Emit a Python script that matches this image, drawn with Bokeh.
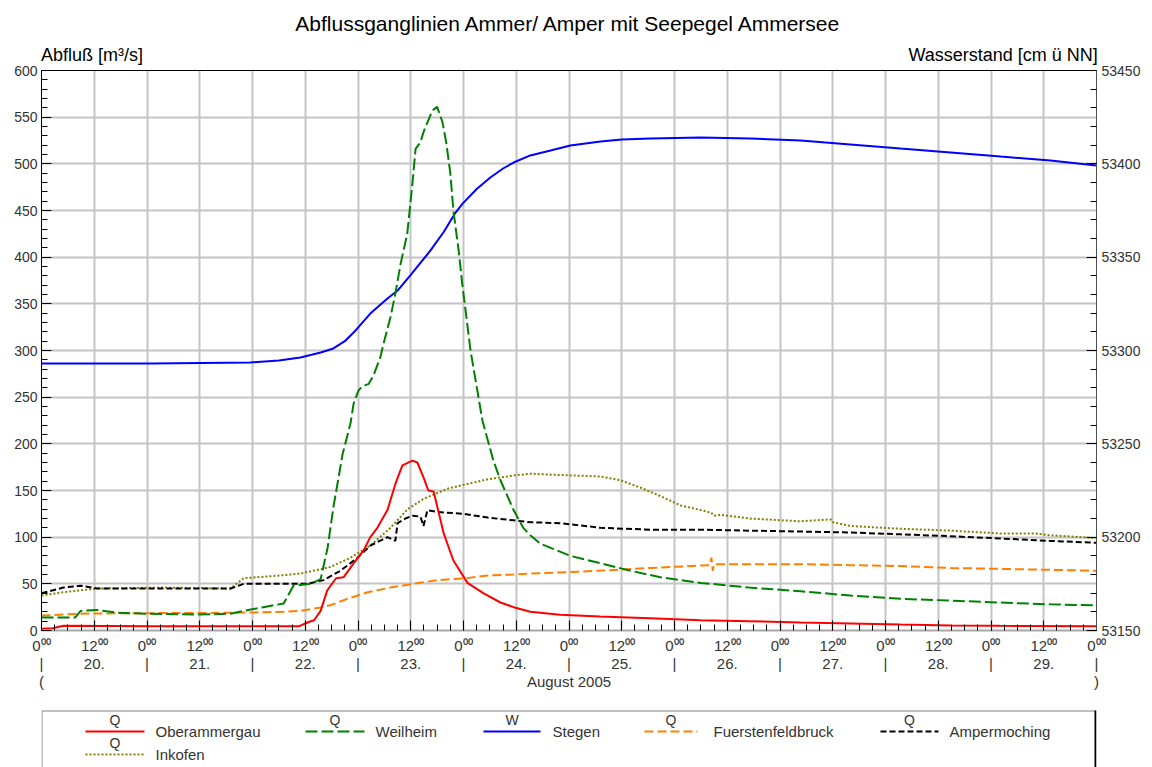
from bokeh.plotting import figure
from bokeh.models import Range1d, LinearAxis, FixedTicker, Grid
from bokeh.layouts import column
from bokeh.embed import file_html
from bokeh.resources import INLINE
from bokeh.core.properties import value

FONT = "Liberation Sans"

# ---------------- data (hours since 20.08.2005 00:00) ----------------
obe_h = [0, 2.5, 5, 25, 47, 58.5, 60.5, 62, 63.5, 65, 67, 68.7, 71, 73.3, 74.8, 76.4, 78.7,
         80.5, 82.1, 84.4, 85.5, 86.9, 88, 89.2, 91.5, 93.7, 96.9, 100.5, 104.4, 107.4,
         111.2, 118, 127, 138.5, 150, 161, 172.7, 184, 195.4, 206.8, 218, 240]
obe_q = [2, 2.5, 5, 4.5, 4.5, 4.5, 8.6, 11, 21, 43, 56, 57, 72, 86, 100, 110, 129,
         157, 177, 182, 180, 164, 150, 149, 104, 75, 51, 40, 30, 25,
         20, 17, 15, 13, 11, 10, 8.6, 7.5, 6.4, 5.4, 5, 4.5]

wei_h = [0, 7.7, 8.9, 12.7, 17.3, 24, 35.5, 43, 46, 50.5, 55.1, 57.3, 61.2, 63.5, 65.1,
         66.4, 68.5, 70.3, 71, 72.1, 73, 74.4, 75.5, 77.1, 77.8, 79.4, 80.5, 81.7, 83.2,
         84.3, 85.1, 86.2, 86.9, 88.9, 90, 91.2, 92.1, 93, 93.7, 94.9, 95.7, 97.6, 100.3,
         102.8, 104.4, 107.4, 109.6, 111.2, 113.5, 120.3, 127.2, 134, 140.8, 150, 161,
         172.7, 184, 195.4, 206.8, 218, 229.5, 240]
wei_q = [14, 14, 21, 22, 19, 18, 17, 18, 21, 25, 29, 48, 50, 55, 89,
         132, 189, 222, 243, 257, 262, 264, 273, 293, 307, 336, 361, 393, 425,
         475, 516, 523, 534, 557, 561, 545, 522, 490, 450, 407, 372, 300, 225,
         182, 161, 129, 110, 102, 93, 80, 72, 64, 57, 51, 46,
         42, 37.5, 34, 32, 30, 28, 27]

ste_h = [0, 25, 47.5, 54, 58.9, 63.5, 66.4, 69, 71, 74.8, 78.7, 81, 83.9, 88.5, 91.5, 94.2,
         95.8, 99, 102.1, 105, 107.4, 111.2, 115.8, 120.3, 127.2, 132, 138.5, 150, 161.3,
         172.7, 184, 195.4, 206.8, 218.2, 229.5, 240]
ste_w = [53293.0, 53293.0, 53293.6, 53294.6, 53296.2, 53298.9, 53301.1, 53305.0, 53309.6,
         53319.8, 53327.9, 53332.1, 53340.2, 53353.6, 53363.5, 53373.9, 53378.7, 53386.5,
         53392.7, 53397.5, 53400.7, 53404.5, 53407.1, 53409.8, 53412.0, 53413.0, 53413.6,
         53414.1, 53413.6, 53412.5, 53410.4, 53408.2, 53406.1, 53403.9, 53401.8, 53399.1]

fur_h = [0, 8.9, 20, 44.6, 55.1, 58.9, 63.5, 65.7, 69.6, 74.2, 79.4, 84.6, 90.1, 96, 101.5,
         107.4, 111.2, 122.6, 138.5, 152, 152.4, 152.7, 153, 161, 172.7, 184, 195.4, 206.8,
         218, 240]
fur_q = [16, 18, 18.5, 19, 20, 21, 24.6, 27, 34, 41, 46, 50, 54, 55.7, 59,
         60, 61, 63, 67, 70, 78, 64, 71, 71, 71, 70, 69, 67, 66, 64]

amp_h = [0, 5, 8.9, 12.7, 27.8, 43, 46, 58.2, 60.5, 64.2, 68, 71.9, 74.8, 78.7, 80.5, 81,
         82.8, 84.4, 86.2, 86.9, 87.8, 90.1, 96, 101.5, 107.4, 111.2, 118, 127.2, 138.5,
         150, 161, 172.7, 184, 195.4, 206.8, 218, 229.5, 240]
amp_q = [40, 46, 48, 45, 45, 45, 50, 50, 50, 54, 64, 78, 91, 100, 96, 115,
         120, 123, 122, 112, 129, 127, 125, 121, 118, 116, 115, 110, 108,
         108, 107, 106, 105, 103, 101, 98.6, 96, 94]

ink_h = [0, 5, 12.7, 27.8, 43, 46, 54.4, 58.9, 65.7, 70.3, 74.8, 79.4, 83.3, 86.9, 92.4,
         96.9, 101.5, 107.4, 111.2, 115.8, 127.2, 131.7, 136.3, 140.8, 145.4, 150, 152.4,
         153, 154.5, 161, 172.7, 179.5, 180, 184, 195.4, 206.8, 218, 226, 229.5, 240]
ink_q = [37.5, 41, 45, 46, 45, 56, 59, 61, 68, 78, 91, 110, 130, 141, 152,
         157, 162, 166, 168, 167, 165, 161, 153, 144, 134, 129, 126,
         123, 124, 120, 117, 119, 116, 112, 109, 107, 104, 104, 102, 99]

# ---------------- ticks and texts ----------------
x_major = list(range(0, 241, 12))
x_minor = list(range(0, 241, 3))
q_major = list(range(0, 601, 50))
q_minor = list(range(0, 601, 10))
w_major = list(range(53150, 53451, 50))
w_minor = list(range(53150, 53451, 10))
hour_labels = ["0\u2070\u2070" if t % 24 == 0 else "12\u2070\u2070" for t in x_major]
day_labels = ["20.", "21.", "22.", "23.", "24.", "25.", "26.", "27.", "28.", "29."]
day_row = ["|" if t % 24 == 0 else day_labels[t // 24] for t in x_major]
month_ticks = [0, 120, 240]
month_row = ["(", "August 2005", ")"]

TITLE = "Abflussganglinien Ammer/ Amper mit Seepegel Ammersee"
unit_ticks = [11.5, 218.75]
unit_labels = ["Abfluß [m³/s]", "Wasserstand [cm ü NN]"]

legend_kind = ["Q", "Q", "W", "Q", "Q", "Q"]
legend_names = ["Oberammergau", "Weilheim", "Stegen", "Fuerstenfeldbruck", "Ampermoching", "Inkofen"]

# styles
colors = ["#ff0000", "#008000", "#0000ff", "#ff8000", "#000000", "#808000"]
dashes = ["solid", "12 4", "solid", "9 4", "6 3", "2 2"]
TXT = "#333333"

# ---------------- main figure ----------------
p = figure(frame_width=1055, frame_height=560,
           x_range=Range1d(0, 240), y_range=Range1d(0, 600),
           x_axis_type=None, y_axis_type=None,
           output_backend="svg", toolbar_location=None,
           min_border_left=41, min_border_right=56, min_border_top=70, min_border_bottom=70,
           outline_line_color=None, background_fill_color="white", border_fill_color="white",
           title=TITLE)
p.title.align = "center"
p.title.text_font = FONT
p.title.text_font_size = "21px"
p.title.text_font_style = "normal"
p.title.text_color = "black"
p.title.standoff = 13
p.extra_y_ranges = {"w": Range1d(53150, 53450)}

xt = FixedTicker(ticks=x_major, minor_ticks=x_minor)
qt = FixedTicker(ticks=q_major, minor_ticks=q_minor)
wt = FixedTicker(ticks=w_major, minor_ticks=w_minor)

p.add_layout(Grid(dimension=0, ticker=xt, grid_line_color="#c4c4c4", grid_line_width=2))
p.add_layout(Grid(dimension=1, ticker=qt, grid_line_color="#c4c4c4", grid_line_width=2))


def style(ax, line_color, line_width=1, size="14px"):
    ax.major_tick_in = 10
    ax.major_tick_out = 0
    ax.minor_tick_in = 6
    ax.minor_tick_out = 0
    ax.major_tick_line_color = "black"
    ax.minor_tick_line_color = "black"
    ax.axis_line_color = line_color
    ax.axis_line_width = line_width
    ax.major_label_text_font = FONT
    ax.major_label_text_font_size = size
    ax.major_label_text_color = TXT


def bare(ax):
    ax.axis_line_color = None
    ax.major_tick_line_color = None
    ax.minor_tick_line_color = None
    ax.major_tick_out = 0
    ax.major_tick_in = 0
    ax.minor_tick_out = 0
    ax.minor_tick_in = 0


left = LinearAxis(ticker=qt)
style(left, "black")
left.major_label_standoff = 4
p.add_layout(left, "left")

right = LinearAxis(y_range_name="w", ticker=wt)
style(right, "#505050")
right.major_label_standoff = 5
p.add_layout(right, "right")

# bottom: hour row (with ticks), day row, month row
bottom = LinearAxis(ticker=xt, major_label_overrides=dict(zip(x_major, hour_labels)))
style(bottom, "#a8a8a8", 2, "15px")
bottom.major_label_standoff = 6
p.add_layout(bottom, "below")

days = LinearAxis(ticker=FixedTicker(ticks=x_major, minor_ticks=[]),
                  major_label_overrides=dict(zip(x_major, day_row)))
style(days, None, 1, "15px")
bare(days)
days.major_label_standoff = -2
p.add_layout(days, "below")

month = LinearAxis(ticker=FixedTicker(ticks=month_ticks, minor_ticks=[]),
                   major_label_overrides=dict(zip(month_ticks, month_row)))
style(month, None, 1, "15px")
bare(month)
month.major_label_standoff = -2
p.add_layout(month, "below")

# top: frame line + unit labels
top = LinearAxis(ticker=FixedTicker(ticks=unit_ticks, minor_ticks=[]),
                 major_label_overrides=dict(zip(unit_ticks, unit_labels)))
style(top, "black", 1, "18px")
top.major_tick_line_color = None
top.minor_tick_line_color = None
top.major_tick_in = 0
top.minor_tick_in = 0
top.major_label_text_color = "black"
top.major_label_standoff = 6
p.add_layout(top, "above")

# series
p.line(ink_h, ink_q, line_color=colors[5], line_width=2, line_dash=dashes[5])
p.line(amp_h, amp_q, line_color=colors[4], line_width=2, line_dash=dashes[4])
p.line(fur_h, fur_q, line_color=colors[3], line_width=2, line_dash=dashes[3])
p.line(ste_h, ste_w, line_color=colors[2], line_width=2, y_range_name="w")
p.line(wei_h, wei_q, line_color=colors[1], line_width=2, line_dash=dashes[1])
p.line(obe_h, obe_q, line_color=colors[0], line_width=2)

# ---------------- legend figure (page pixel coordinates) ----------------
lg = figure(frame_width=1055, frame_height=67, x_range=Range1d(41, 1096),
            y_range=Range1d(767, 700),
            x_axis_type=None, y_axis_type=None, output_backend="svg",
            toolbar_location=None, min_border_left=41, min_border_right=56,
            min_border_top=0, min_border_bottom=0, outline_line_color=None,
            background_fill_color="white", border_fill_color="white")
lg.segment(x0=[41.5, 41.5], y0=[710.5, 710.5], x1=[1095, 41.5], y1=[710.5, 768],
           line_color="#808080", line_width=1)
lg.segment(x0=[1095], y0=[710], x1=[1095], y1=[768], line_color="black", line_width=2)

sample_x0 = [85, 305, 483, 644, 880, 85]
sample_x1 = [144, 364, 540, 697, 938, 144]
text_x = [155, 375, 552, 713, 949, 155]
row_y = [731, 731, 731, 731, 731, 754]
for i in range(6):
    lg.line([sample_x0[i], sample_x1[i]], [row_y[i], row_y[i]], line_color=colors[i],
            line_width=2, line_dash=dashes[i])
lg.text(x=[(a + b) / 2 for a, b in zip(sample_x0, sample_x1)], y=[y - 12 for y in row_y],
        text=legend_kind, text_font=value(FONT), text_font_size="14px", text_color=TXT,
        text_align="center", text_baseline="middle")
lg.text(x=text_x, y=row_y, text=legend_names, text_font=value(FONT), text_font_size="15px",
        text_color=TXT, text_align="left", text_baseline="middle")

layout = column(p, lg, spacing=0)
open("out.html", "w").write(file_html(layout, INLINE))
